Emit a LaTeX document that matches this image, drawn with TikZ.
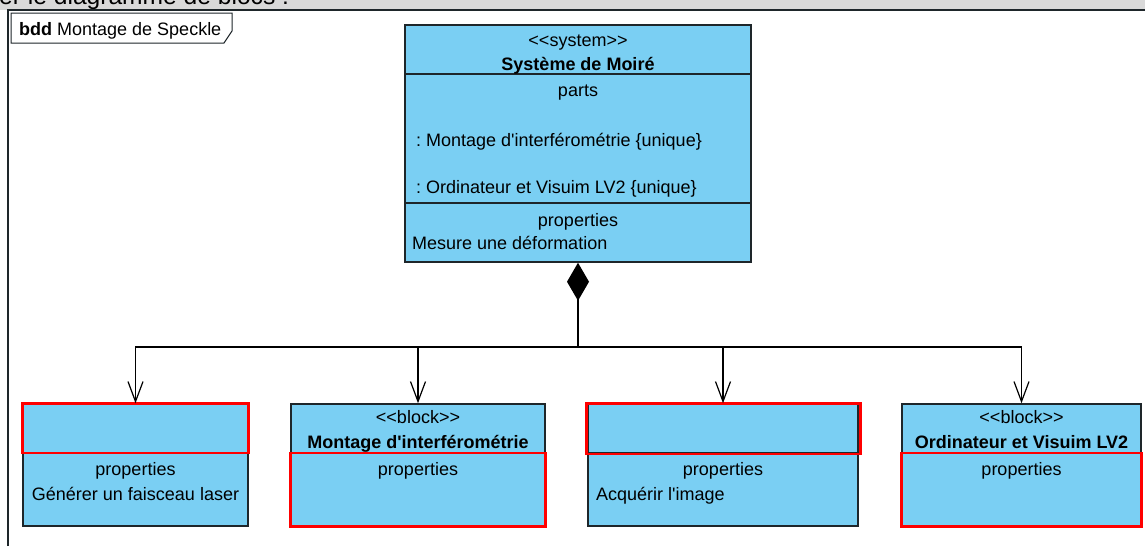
\documentclass[tikz,border=0pt]{standalone}
\usepackage{fontspec}
\setmainfont{Liberation Sans}[Ligatures=TeXOff]
\usetikzlibrary{arrows.meta}
\frenchspacing

\definecolor{blocblue}{RGB}{122,207,243}
\definecolor{bandgray}{RGB}{217,217,217}
\definecolor{blocline}{RGB}{30,38,42}

\tikzset{
  bloc/.style={draw=blocline, fill=blocblue, line width=1.5pt, inner sep=0pt},
  txt/.style={anchor=base, inner sep=0pt, font=\fontsize{18}{21}\selectfont},
  redbox/.style={draw=red, line width=2.8pt},
  compo/.style={line width=1.2pt, -{Straight Barb[length=20pt,width=15pt]}},
}

\begin{document}
\begin{tikzpicture}[x=1pt,y=-1pt]
\useasboundingbox (0,0) rectangle (1145,546);
\begin{scope}
\clip (0,0) rectangle (1145,9.5);
\fill[bandgray] (0,0) rectangle (1145,10);
\node[anchor=base west, inner sep=0pt, font=\fontsize{24.6}{28}\selectfont] (consigne) at (-1,5) {er le diagramme de blocs :};
\end{scope}

% cadre bdd
\draw[blocline, line width=2pt] (8,546) -- (8,10) -- (1145,10);
\draw[blocline, line width=1pt, fill=white] (11,13) -- (232,13) -- (232,31) -- (224,43) -- (11,43) -- cycle;
\node[txt, anchor=base west] (titre) at (19,35) {\textbf{bdd} Montage de Speckle};

% bloc systeme
\node[bloc, minimum width=346pt, minimum height=237pt] (sys) at (578,143.5) {};
\draw[blocline, line width=1.5pt] (sys.west |- 0,74) -- (sys.east |- 0,74);
\draw[blocline, line width=1.5pt] (sys.west |- 0,203) -- (sys.east |- 0,203);
\node[txt] (sysst) at (578,46) {<<system>>};
\node[txt] (sysnom) at (578,70) {\textbf{Système de Moiré}};
\node[txt] (parts) at (578,96) {parts};
\node[txt, anchor=base west] (part1) at (416,146) {: Montage d'interférométrie \{unique\}};
\node[txt, anchor=base west] (part2) at (416,193) {: Ordinateur et Visuim LV2 \{unique\}};
\node[txt] (sysprop) at (578,226) {properties};
\node[txt, anchor=base west] (sysval) at (412,249) {Mesure une déformation};

% blocs du bas
\node[bloc, minimum width=225pt, minimum height=122pt] (laser) at (135.5,465) {};
\node[bloc, minimum width=254pt, minimum height=122pt] (interfero) at (418,465) {};
\node[bloc, minimum width=270pt, minimum height=122pt] (acq) at (723,465) {};
\node[bloc, minimum width=239pt, minimum height=122pt] (ordi) at (1021.5,465) {};
\foreach \b in {laser,interfero,acq,ordi}
  \draw[blocline, line width=1.5pt] (\b.west |- 0,453) -- (\b.east |- 0,453);

\node[txt] (laserprop) at (135.5,475) {properties};
\node[txt] (laserval) at (135.5,500) {Générer un faisceau laser};

\node[txt] (interferost) at (418,423) {<<block>>};
\node[txt] (interferonom) at (418,448) {\textbf{Montage d'interférométrie}};
\node[txt] (interferoprop) at (418,475) {properties};

\node[txt] (acqprop) at (723,475) {properties};
\node[txt, anchor=base west] (acqval) at (596,500) {Acquérir l'image};

\node[txt] (ordist) at (1021.5,423) {<<block>>};
\node[txt] (ordinom) at (1021.5,448) {\textbf{Ordinateur et Visuim LV2}};
\node[txt] (ordiprop) at (1021.5,475) {properties};

% cadres rouges
\draw[redbox] (laser.north west) rectangle (laser.east |- 0,453);
\draw[redbox] (interfero.west |- 0,453) rectangle (interfero.south east);
\draw[redbox] ([xshift=-1pt]acq.north west) rectangle ([xshift=2pt]acq.east |- 0,454);
\draw[redbox] (ordi.west |- 0,453) rectangle (ordi.south east);

% composition
\coordinate (noeud) at (578,347);
\draw[line width=2.5pt, {Diamond[length=38pt,width=22pt]}-] (sys.south) -- (noeud);
\foreach \b in {laser,interfero,acq,ordi}
  \draw[compo] (noeud) -| (\b.north);
\end{tikzpicture}
\end{document}
